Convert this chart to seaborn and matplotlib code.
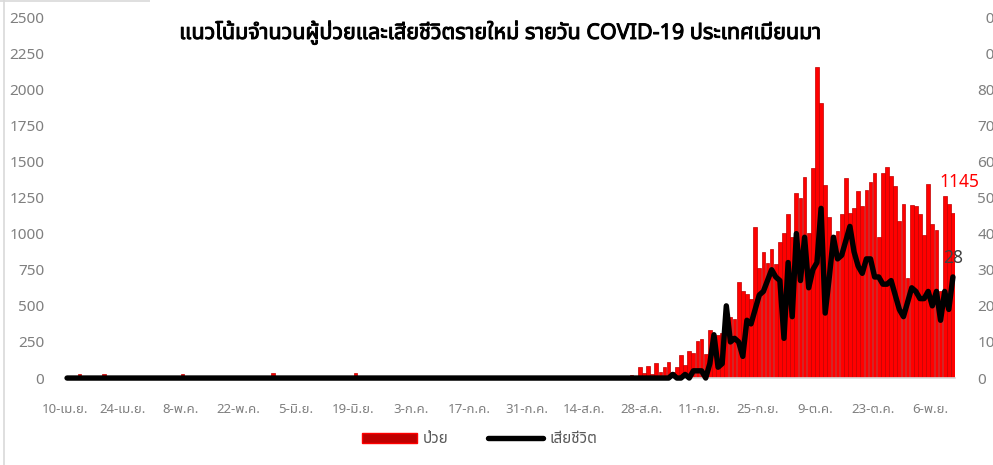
import numpy as np
import pandas as pd
import matplotlib
matplotlib.use("Agg")
import matplotlib.pyplot as plt
import seaborn as sns
from matplotlib import font_manager, patheffects
from matplotlib.ft2font import FT2Font
from matplotlib.patches import Patch, Rectangle
from matplotlib.lines import Line2D

# ผู้ป่วยรายวัน 10 เม.ย. - 11 พ.ย. (อ่านค่าจากกราฟ)
cases = [
    5, 4, 2, 30, 1, 9, 8, 3, 13, 28, 8, 0, 7, 4,
    2, 5, 1, 0, 1, 2, 0, 1, 3, 0, 0, 1, 0, 0,
    26, 2, 1, 0, 2, 0, 1, 0, 0, 3, 0, 1, 0, 0,
    0, 1, 2, 0, 0, 0, 2, 1, 32, 4, 0, 5, 2, 0,
    1, 0, 3, 2, 1, 0, 0, 1, 0, 2, 1, 0, 0, 1,
    35, 3, 0, 2, 0, 1, 0, 2, 0, 1, 0, 0, 1, 0,
    2, 0, 0, 1, 0, 0, 3, 0, 1, 0, 0, 2, 0, 0,
    1, 0, 0, 2, 0, 1, 0, 0, 1, 0, 3, 0, 1, 0,
    0, 2, 0, 1, 0, 0, 1, 0, 2, 1, 0, 3, 0, 1,
    3, 1, 5, 2, 7, 4, 4, 14, 6, 10, 8, 21, 15, 74,
    32, 85, 30, 102, 40, 74, 108, 44, 74, 159, 90, 187, 175, 258,
    268, 166, 332, 250, 300, 312, 330, 425, 412, 665, 600, 585, 550, 1045,
    760, 870, 795, 892, 790, 944, 1006, 1136, 975, 1283, 1245, 1394, 1006, 1452,
    2156, 1902, 1336, 1117, 990, 1018, 1136, 1383, 1142, 1177, 1297, 1191, 1302, 1355,
    1417, 979, 1422, 1464, 1399, 1330, 1087, 1205, 690, 1198, 1191, 1134, 990, 1341,
    1066, 1025, 605, 1260, 1205, 1145,
]

# เสียชีวิตรายวัน
deaths = [
    0, 0, 0, 0, 0, 0, 0, 0, 0, 0, 0, 0, 0, 0,
    0, 0, 0, 0, 0, 0, 0, 0, 0, 0, 0, 0, 0, 0,
    0, 0, 0, 0, 0, 0, 0, 0, 0, 0, 0, 0, 0, 0,
    0, 0, 0, 0, 0, 0, 0, 0, 0, 0, 0, 0, 0, 0,
    0, 0, 0, 0, 0, 0, 0, 0, 0, 0, 0, 0, 0, 0,
    0, 0, 0, 0, 0, 0, 0, 0, 0, 0, 0, 0, 0, 0,
    0, 0, 0, 0, 0, 0, 0, 0, 0, 0, 0, 0, 0, 0,
    0, 0, 0, 0, 0, 0, 0, 0, 0, 0, 0, 0, 0, 0,
    0, 0, 0, 0, 0, 0, 0, 0, 0, 0, 0, 0, 0, 0,
    0, 0, 0, 0, 0, 0, 0, 0, 0, 0, 0, 0, 0, 0,
    0, 0, 0, 0, 0, 0, 0, 1, 0, 0, 1, 0, 2, 2,
    2, 0, 4, 12, 3, 4, 20, 10, 11, 10, 6, 16, 15, 19,
    23, 24, 27, 30, 28, 27, 11, 32, 17, 40, 27, 39, 25, 30,
    32, 47, 18, 28, 39, 33, 34, 38, 42, 35, 31, 29, 33, 33,
    28, 28, 26, 26, 27, 23, 19, 17, 21, 25, 24, 22, 22, 24,
    20, 24, 16, 24, 19, 28,
]

tick_labels = ["10-เม.ย.", "24-เม.ย.", "8-พ.ค.", "22-พ.ค.", "5-มิ.ย.", "19-มิ.ย.",
               "3-ก.ค.", "17-ก.ค.", "31-ก.ค.", "14-ส.ค.", "28-ส.ค.", "11-ก.ย.",
               "25-ก.ย.", "9-ต.ค.", "23-ต.ค.", "6-พ.ย."]

title = "แนวโน้มจำนวนผู้ป่วยและเสียชีวิตรายใหม่ รายวัน COVID-19 ประเทศเมียนมา"

df = pd.DataFrame({"day": np.arange(len(cases)), "cases": cases, "deaths": deaths})

# หาฟอนต์ที่มีอักษรไทย
found = []
for f in font_manager.fontManager.ttflist:
    try:
        if 0x0E01 in FT2Font(f.fname).get_charmap():
            found.append(f.name)
    except Exception:
        pass
thai_font = None
for name in ["Leelawadee UI", "Tahoma", "Noto Sans Thai", "Noto Sans Thai UI", "Loma",
             "Garuda", "Sarabun", "Umpush", "Waree", "Kinnari", "Norasi"]:
    if name in found:
        thai_font = name
        break
if thai_font is None and found:
    thai_font = found[0]

sns.set_style("white")
families = ["Noto Sans"] + ([thai_font] if thai_font else []) + ["DejaVu Sans"]
plt.rcParams["font.family"] = families

grey = "#7F7F7F"

fig = plt.figure(figsize=(9.93, 4.65), dpi=100)
ax = fig.add_axes([0.0655, 0.187, 0.8962, 0.7764])

sns.barplot(data=df, x="day", y="cases", native_scale=True, color="#FF0000",
            saturation=1, width=0.9, edgecolor="#C00000", linewidth=0.5,
            errorbar=None, ax=ax)

ax2 = ax.twinx()
sns.lineplot(data=df, x="day", y="deaths", color="black", linewidth=3.9, ax=ax2,
             solid_joinstyle="round", solid_capstyle="round")
ax2.lines[0].set_clip_on(False)

ax.set_xlim(-0.5, len(cases) - 0.5)
ax.set_ylim(0, 2500)
ax2.set_ylim(0, 100)
ax.set_yticks(range(0, 2501, 250))
ax2.set_yticks(range(0, 101, 10))
ax.set_xticks([k * 14 - 0.5 for k in range(len(tick_labels))])
ax.set_xticklabels(tick_labels)

ax.set_xlabel("")
ax.set_ylabel("")
ax2.set_ylabel("")

for s in ["top", "left", "right"]:
    ax.spines[s].set_visible(False)
for s in ax2.spines.values():
    s.set_visible(False)
ax.spines["bottom"].set_color("#D9D9D9")
ax.spines["bottom"].set_linewidth(1.2)

ax.tick_params(axis="x", colors=grey, labelsize=9.5, length=4, width=1, pad=14)
ax.tick_params(axis="x", color="#D9D9D9")
ax.tick_params(axis="y", colors=grey, labelsize=11, length=0, pad=15)
ax2.tick_params(axis="y", colors=grey, labelsize=11, length=0, pad=16)

# ป้ายค่าสุดท้าย
ax.annotate(str(cases[-1]), xy=(len(cases) - 1, cases[-1]), xytext=(5, 22),
            textcoords="offset points", ha="center", va="center",
            color="#FF0000", fontsize=12.5)
ax2.annotate(str(deaths[-1]), xy=(len(deaths) - 1, deaths[-1]), xytext=(0, 14),
             textcoords="offset points", ha="center", va="center",
             color="#404040", fontsize=12.5)

# กรอบชื่อกราฟ (บังส่วนบนของพื้นที่กราฟ)
fig.add_artist(Rectangle((0.151, 0.866), 0.842, 0.134, transform=fig.transFigure,
                         facecolor="white", edgecolor="none", zorder=5))
fig.text(0.503, 0.931, title, ha="center", va="center", fontsize=15.5,
         fontweight="bold", color="black", zorder=6,
         path_effects=[patheffects.withStroke(linewidth=0.7, foreground="black")])

# เส้นขอบแผนภูมิ
fig.add_artist(Line2D([0.004, 0.004], [0, 1], transform=fig.transFigure,
                      color="#D9D9D9", linewidth=1.2))
fig.add_artist(Line2D([0, 0.151], [0.998, 0.998], transform=fig.transFigure,
                      color="#D9D9D9", linewidth=1.2))

handles = [Patch(facecolor="#C00000", edgecolor="#FF0000", linewidth=1),
           Line2D([], [], color="black", linewidth=3.9, solid_capstyle="round")]
leg = fig.legend(handles, ["ป่วย", "เสียชีวิต"], loc="center", bbox_to_anchor=(0.483, 0.054),
                 ncol=2, frameon=False, fontsize=11, handlelength=3.6,
                 handletextpad=0.4, columnspacing=2.6)
for t in leg.get_texts():
    t.set_color("#595959")

fig.savefig("out.png", dpi=100)
